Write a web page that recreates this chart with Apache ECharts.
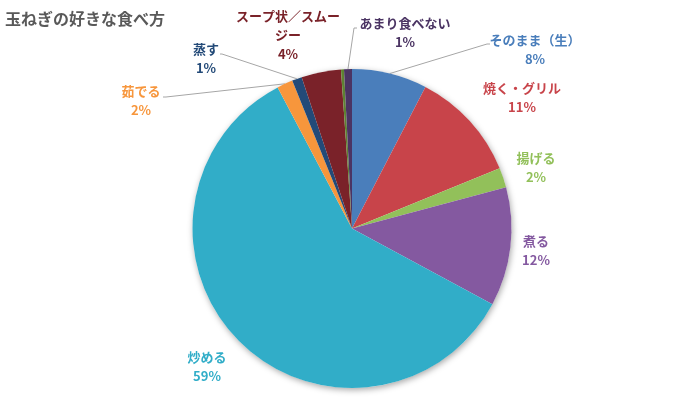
<!DOCTYPE html>
<html>
<head>
<meta charset="utf-8">
<script src="https://cdn.jsdelivr.net/npm/echarts@6/dist/echarts.min.js"></script>
<style>
html,body{margin:0;padding:0;background:#fff;}
#chart{width:700px;height:420px;}
</style>
</head>
<body>
<div id="chart"></div>
<script>
// 玉ねぎの好きな食べ方 (%)
var categories = ['そのまま（生）','焼く・グリル','揚げる','煮る','炒める','茹でる','蒸す','スープ状／スムージー','その他','あまり食べない'];
var values = [7.6, 11.2, 2.0, 12.0, 59.3, 1.6, 1.0, 4.0, 0.3, 0.8];
var colors = ['#4A7EBB','#C8444A','#92C05A','#8459A0','#31ADC8','#F7963C','#234A78','#7A2229','#5E8232','#4B3463'];

// excel-ish label spots and leader line ends
var labelPos = [[535,50],[522,98],[536,168],[536,251],[207,367],[141,101],[206,59],[288,35],null,[405,33]];
var leader = {
	0: [[487,44],[490,44]],
	5: [[166,97],[163,97]],
	6: [[222,54],[220,54]],
	9: [[354,28],[357,28]]
};

var cx = 352, cy = 228.5, r = 159.5;
var total = 0;
for (var i = 0; i < values.length; i++) total += values[i];

function arcPoint(idx){
	var before = 0;
	for (var k = 0; k < idx; k++) before += values[k];
	var a = (before + values[idx] / 2) / total * Math.PI * 2;
	return [cx + r * Math.sin(a), cy - r * Math.cos(a)];
}

var data = [];
for (var i = 0; i < categories.length; i++) {
	data.push({
		name: categories[i],
		value: values[i],
		itemStyle: {color: colors[i]},
		label: {show: labelPos[i] != null, color: colors[i]},
		labelLine: {show: leader[i] != null}
	});
}

var myChart = echarts.init(document.getElementById('chart'));
var option = {
	animation: false,
	title: {
		text: '玉ねぎの好きな食べ方',
		left: 0,
		top: 6,
		textStyle: {fontSize: 16, fontWeight: 'bold', color: '#595959', fontFamily: 'Noto Sans CJK JP'}
	},
	series: [
		{
			// shadow disc behind the pie
			type: 'pie',
			silent: true,
			z: 1,
			center: [cx, cy],
			radius: r,
			data: [{value: 1}],
			itemStyle: {color: '#fff', shadowBlur: 6, shadowColor: 'rgba(0,0,0,0.35)', shadowOffsetX: 1, shadowOffsetY: 2},
			label: {show: false},
			labelLine: {show: false}
		},
		{
			name: '食べ方',
			type: 'pie',
			z: 2,
			center: [cx, cy],
			radius: r,
			startAngle: 90,
			clockwise: true,
			avoidLabelOverlap: false,
			itemStyle: {borderWidth: 0},
			emphasis: {disabled: true},
			label: {
				position: 'outside',
				fontFamily: 'Noto Sans CJK JP',
				fontSize: 13,
				fontWeight: 'bold',
				lineHeight: 19,
				align: 'center',
				formatter: function(p){
					var name = p.name;
					if (name.length > 8) name = name.slice(0, 8) + '\n' + name.slice(8);
					return name + '\n' + Math.round(p.value / total * 100) + '%';
				}
			},
			labelLine: {lineStyle: {color: '#A6A6A6', width: 1}},
			labelLayout: function(params){
				var i = params.dataIndex;
				if (!labelPos[i]) return {};
				var res = {x: labelPos[i][0], y: labelPos[i][1], align: 'center', verticalAlign: 'middle', hideOverlap: false};
				if (leader[i]) {
					res.labelLinePoints = [arcPoint(i), leader[i][0], leader[i][1]];
				}
				return res;
			},
			data: data
		}
	]
};
myChart.setOption(option, true);
</script>
</body>
</html>
